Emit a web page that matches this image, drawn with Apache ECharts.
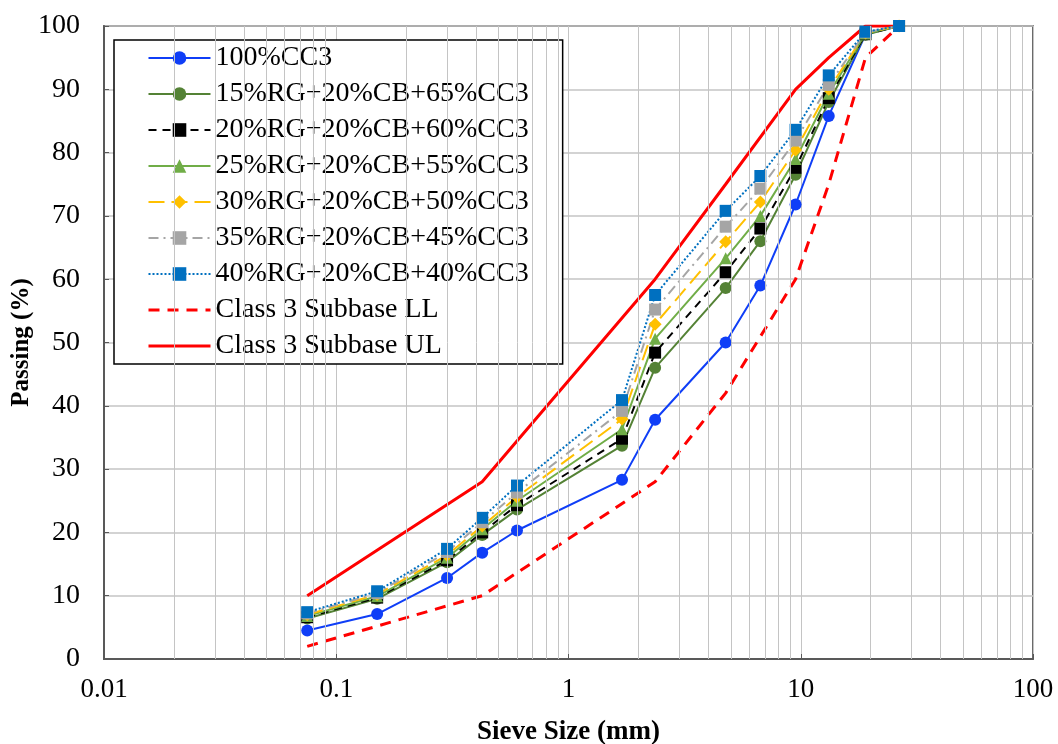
<!DOCTYPE html>
<html>
<head>
<meta charset="utf-8">
<title>Sieve analysis</title>
<script src="https://cdn.jsdelivr.net/npm/echarts@6/dist/echarts.min.js"></script>
<style>
  html, body { margin: 0; padding: 0; background: #fff; }
  #main { width: 1058px; height: 744px; }
</style>
</head>
<body>
<div id="main"></div>
<script>
// sieve sizes (mm) and % passing
const sieve = [0.075, 0.15, 0.3, 0.425, 0.6, 1.7, 2.36, 4.75, 6.7, 9.5, 13.2, 19, 26.5];
const cc100 = [4.5, 7.1, 12.8, 16.8, 20.3, 28.3, 37.8, 50.0, 59.0, 71.8, 85.8, 98.7, 100];
const rg15 = [6.4, 9.5, 15.3, 19.6, 23.6, 33.7, 46.0, 58.6, 66.0, 76.5, 88.0, 98.6, 100];
const rg20 = [6.6, 9.7, 15.6, 20.0, 24.3, 34.8, 48.4, 61.1, 68.0, 77.6, 88.6, 98.7, 100];
const rg25 = [6.8, 9.9, 16.0, 20.5, 25.0, 36.3, 50.6, 63.3, 70.0, 79.0, 89.3, 98.8, 100];
const rg30 = [7.0, 10.2, 16.4, 21.0, 25.6, 37.9, 52.9, 65.9, 72.2, 80.4, 90.0, 98.9, 100];
const rg35 = [7.2, 10.4, 16.9, 21.6, 26.3, 39.2, 55.2, 68.3, 74.3, 81.9, 90.7, 99.0, 100];
const rg40 = [7.4, 10.7, 17.4, 22.3, 27.4, 40.9, 57.5, 70.8, 76.3, 83.6, 92.2, 99.1, 100];

// Class 3 subbase envelope
const limitSieve = [0.075, 0.425, 2.36, 4.75, 9.5, 13.2, 19, 26.5];
const lowerLimit = [2, 10, 28, 42, 60, 75, 95, 100];
const upperLimit = [10, 28, 60, 75, 90, 95, 100, 100];

// log axis minor grid (2..9 of each decade)
const decades = [0.01, 0.1, 1, 10];
const minorGrid = [];
decades.forEach(function (d) {
  for (let k = 2; k <= 9; k++) minorGrid.push(+(d * k).toPrecision(3));
});

const FONT = "'Liberation Serif', 'Times New Roman', serif";

function pairs(xs, ys) {
  return xs.map(function (x, i) { return [x, ys[i]]; });
}

function blend(name, ys, color, symbol, dash) {
  return {
    name: name,
    type: "line",
    data: pairs(sieve, ys),
    symbol: symbol,
    symbolSize: symbol === "diamond" ? 13 : 12,
    z: 3,
    lineStyle: { color: color, width: 2, type: dash || "solid" },
    itemStyle: { color: color },
  };
}

const chart = echarts.init(document.getElementById("main"));

const option = {
  animation: false,
  backgroundColor: "#fff",
  grid: {
    left: 104,
    right: 25,
    top: 26,
    bottom: 85,
    containLabel: false,
    outerBoundsMode: "none",
    show: true,
    borderColor: "#3a3a3a",
    borderWidth: 1.5,
  },
  legend: {
    orient: "vertical",
    left: 114,
    top: 40,
    backgroundColor: "#fff",
    borderColor: "#000",
    borderWidth: 1.5,
    padding: [4, 34, 4, 33],
    itemWidth: 62,
    itemHeight: 17,
    itemGap: 8,
    lineStyle: { width: 2 },
    textStyle: { fontFamily: FONT, fontSize: 28, color: "#000", lineHeight: 28 },
    data: [
      "100%CC3",
      "15%RG+20%CB+65%CC3",
      "20%RG+20%CB+60%CC3",
      "25%RG+20%CB+55%CC3",
      "30%RG+20%CB+50%CC3",
      "35%RG+20%CB+45%CC3",
      "40%RG+20%CB+40%CC3",
      { name: "Class 3 Subbase LL", itemStyle: { opacity: 0 }, lineStyle: { width: 3 } },
      { name: "Class 3 Subbase UL", itemStyle: { opacity: 0 }, lineStyle: { width: 3 } },
    ],
  },
  xAxis: {
    type: "log",
    logBase: 10,
    min: 0.01,
    max: 100,
    name: "Sieve Size (mm)",
    nameLocation: "middle",
    nameGap: 60,
    nameMoveOverlap: false,
    nameTextStyle: { fontFamily: FONT, fontSize: 27, fontWeight: "bold", color: "#000" },
    axisLine: { lineStyle: { color: "#595959", width: 2 } },
    axisTick: { inside: true, length: 5, lineStyle: { color: "#595959" } },
    axisLabel: { fontFamily: FONT, fontSize: 27, color: "#000", margin: 17 },
    splitLine: { show: true, lineStyle: { color: "#c4c4c4", width: 1 } },
  },
  yAxis: {
    type: "value",
    min: 0,
    max: 100,
    interval: 10,
    name: "Passing (%)",
    nameLocation: "middle",
    nameGap: 70,
    nameMoveOverlap: false,
    nameTextStyle: { fontFamily: FONT, fontSize: 25, fontWeight: "bold", color: "#000" },
    axisLine: { show: true, lineStyle: { color: "#595959", width: 2 } },
    axisTick: { show: true, inside: true, length: 5, lineStyle: { color: "#595959" } },
    axisLabel: { fontFamily: FONT, fontSize: 28, color: "#000", margin: 24 },
    splitLine: { show: true, lineStyle: { color: "#c4c4c4", width: 1.5 } },
  },
  series: [
    {
      name: "minor",
      type: "line",
      data: [],
      silent: true,
      z: 1,
      markLine: {
        silent: true,
        symbol: ["none", "none"],
        label: { show: false },
        lineStyle: { color: "#c4c4c4", width: 1, type: "solid" },
        data: minorGrid.map(function (v) { return { xAxis: v }; }),
      },
    },
    {
      name: "Class 3 Subbase UL",
      type: "line",
      data: pairs(limitSieve, upperLimit),
      symbol: "none",
      z: 2,
      lineStyle: { color: "#ff0000", width: 3 },
      itemStyle: { color: "#ff0000" },
    },
    {
      name: "Class 3 Subbase LL",
      type: "line",
      data: pairs(limitSieve, lowerLimit),
      symbol: "none",
      z: 2,
      lineStyle: { color: "#ff0000", width: 3, type: [11, 8] },
      itemStyle: { color: "#ff0000" },
    },
    blend("100%CC3", cc100, "#0f3ef7", "circle"),
    blend("15%RG+20%CB+65%CC3", rg15, "#548235", "circle"),
    blend("20%RG+20%CB+60%CC3", rg20, "#000000", "rect", [8, 6]),
    blend("25%RG+20%CB+55%CC3", rg25, "#70ad47", "triangle"),
    blend("30%RG+20%CB+50%CC3", rg30, "#ffc000", "diamond", [16, 7]),
    blend("35%RG+20%CB+45%CC3", rg35, "#a5a5a5", "rect", [10, 5, 2, 5]),
    blend("40%RG+20%CB+40%CC3", rg40, "#0070c0", "rect", [2, 2]),
  ],
};

chart.setOption(option);
</script>
</body>
</html>
